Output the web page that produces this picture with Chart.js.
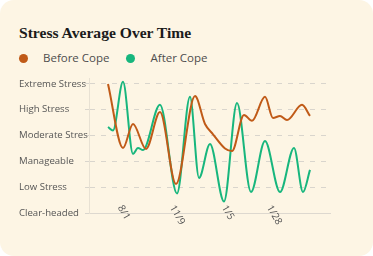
<!DOCTYPE html>
<html>
<head>
<meta charset="utf-8">
<script src="https://cdn.jsdelivr.net/npm/chart.js@4.4.1/dist/chart.umd.min.js"></script>
<style>
    html, body { margin: 0; padding: 0; background: #ffffff; }
    .card {
        position: relative;
        width: 373px;
        height: 256px;
        background: #fdf5e4;
        border-radius: 14px;
        overflow: hidden;
    }
    .card h2 {
        position: absolute;
        left: 19px;
        top: 25px;
        margin: 0;
        font: bold 15.6px "Liberation Serif", serif;
        line-height: 15px;
        color: #1b1b1b;
        white-space: nowrap;
    }
    #legend {
        position: absolute;
        left: 18.5px;
        top: 50px;
        display: flex;
        align-items: center;
        font: 11.5px "Open Sans", sans-serif;
        line-height: 16px;
        color: #4d4d4d;
    }
    #legend .item { display: flex; align-items: center; margin-right: 16.5px; }
    #legend .dot { width: 9px; height: 9px; border-radius: 50%; margin-right: 15.5px; }
    #stressChart { position: absolute; left: 0; top: 0; }
</style>
</head>
<body>
<div class="card">
    <h2>Stress Average Over Time</h2>
    <div id="legend"></div>
    <canvas id="stressChart" width="373" height="256"></canvas>
</div>
<script>
// Stress levels, bottom to top
const stressLevels = ['Clear-headed', 'Low Stress', 'Manageable', 'Moderate Stress', 'High Stress', 'Extreme Stress'];

// x tick labels and where they sit on the time axis
const dateLabels = ['8/1', '11/9', '1/5', '1/28'];
const dateTicks = [12, 64, 116, 161];

// Before Cope
const beforeX = [0, 15, 25, 38, 52, 68, 87, 97, 105, 117, 124, 136, 144, 157, 165, 172, 179, 194, 202];
const beforeY = [5.0, 2.52, 3.45, 2.48, 3.91, 1.12, 4.53, 3.45, 3.05, 2.5, 2.4, 3.8, 3.57, 4.5, 3.68, 3.76, 3.6, 4.19, 3.76];

// After Cope
const afterX = [0, 5, 15, 25, 30, 35, 52, 69, 82, 91, 102, 116, 129, 143, 157, 172, 186, 195, 202];
const afterY = [3.33, 3.2, 5.08, 2.29, 2.52, 2.44, 4.19, 0.76, 4.5, 1.36, 2.67, 0.45, 4.26, 0.81, 2.79, 0.81, 2.52, 0.81, 1.67];

const toPoints = (xs, ys) => xs.map((x, i) => ({ x: x, y: ys[i] }));

// rotated date labels under the x axis
const dateLabelPlugin = {
    id: 'dateLabels',
    afterDraw(chart) {
        const { ctx, scales: { x, y } } = chart;
        ctx.save();
        ctx.font = '10px "Open Sans", sans-serif';
        ctx.fillStyle = '#555555';
        ctx.textAlign = 'left';
        ctx.textBaseline = 'middle';
        dateTicks.forEach((v, i) => {
            ctx.save();
            ctx.translate(x.getPixelForValue(v), y.bottom - 7);
            ctx.rotate(Math.PI / 3);
            ctx.fillText(dateLabels[i], 0, 0);
            ctx.restore();
        });
        ctx.restore();
    }
};

const chart = new Chart(document.getElementById('stressChart'), {
    type: 'line',
    data: {
        datasets: [
            {
                label: 'Before Cope',
                data: toPoints(beforeX, beforeY),
                borderColor: '#c05a17',
                backgroundColor: '#c05a17',
                borderWidth: 2,
                pointRadius: 0,
                cubicInterpolationMode: 'monotone'
            },
            {
                label: 'After Cope',
                data: toPoints(afterX, afterY),
                borderColor: '#17b67d',
                backgroundColor: '#17b67d',
                borderWidth: 2,
                pointRadius: 0,
                cubicInterpolationMode: 'monotone'
            }
        ]
    },
    options: {
        responsive: false,
        animation: false,
        layout: { padding: { left: 19, top: 78, right: 43, bottom: 35 } },
        plugins: {
            legend: { display: false },
            title: { display: false },
            tooltip: { enabled: false }
        },
        scales: {
            x: {
                type: 'linear',
                min: -19,
                max: 222,
                grid: { display: false },
                ticks: { display: false },
                border: { display: true, color: '#ddd8cf' }
            },
            y: {
                min: 0,
                max: 5.23,
                afterBuildTicks: scale => {
                    scale.ticks = stressLevels.map((_, i) => ({ value: i }));
                },
                afterFit: scale => { scale.width = 70; },
                grid: { color: '#d9d5cd', tickLength: 4 },
                border: { display: true, color: '#e8e1d3', dash: [5, 6] },
                ticks: {
                    crossAlign: 'far',
                    padding: 0,
                    color: '#555555',
                    font: { family: '"Open Sans", sans-serif', size: 9.6 },
                    callback: v => stressLevels[v].slice(0, 14)
                }
            }
        }
    },
    plugins: [dateLabelPlugin]
});

// html legend from the datasets
const legend = document.getElementById('legend');
chart.data.datasets.forEach(ds => {
    const item = document.createElement('div');
    item.className = 'item';
    const dot = document.createElement('span');
    dot.className = 'dot';
    dot.style.background = ds.borderColor;
    const text = document.createElement('span');
    text.textContent = ds.label;
    item.appendChild(dot);
    item.appendChild(text);
    legend.appendChild(item);
});
</script>
</body>
</html>
